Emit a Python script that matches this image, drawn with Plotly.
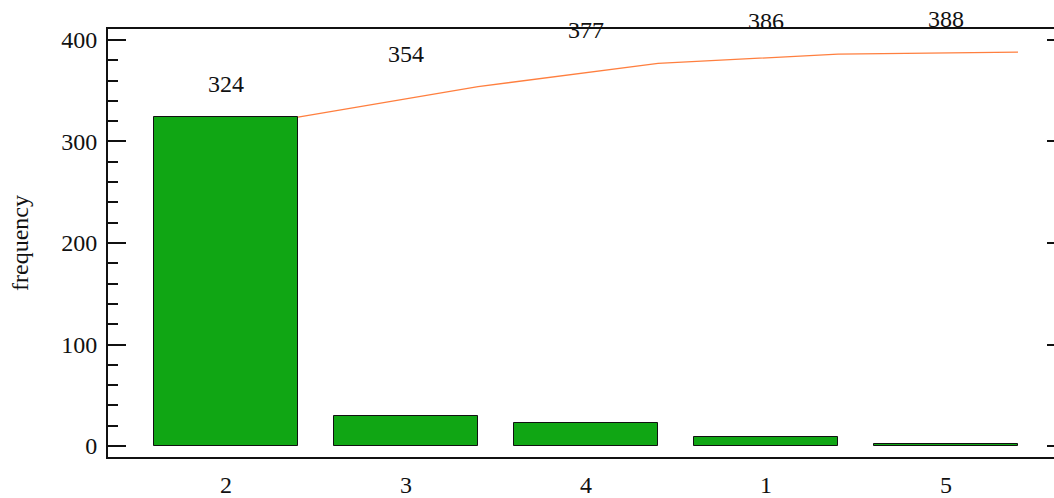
import plotly.graph_objects as go

# Pareto data: categories ordered by frequency, with running totals
categories = ["2", "3", "4", "1", "5"]
frequency = [324, 30, 23, 9, 2]
cumulative = [324, 354, 377, 386, 388]

positions = list(range(len(categories)))
bar_width = 0.8
line_x = [p + bar_width / 2 for p in positions]

font_family = "Liberation Serif, Times New Roman, serif"
ink = "#111111"
font_size = 24

fig = go.Figure()

fig.add_trace(go.Bar(
    x=positions,
    y=frequency,
    width=bar_width,
    marker=dict(color="#10a614", line=dict(color="#111111", width=1)),
    showlegend=False,
    hoverinfo="x+y",
))

fig.add_trace(go.Scatter(
    x=line_x,
    y=cumulative,
    mode="lines",
    line=dict(color="#ff7f3f", width=1.3),
    yaxis="y2",
    showlegend=False,
))

# running-total labels above each bar
for p, c in zip(positions, cumulative):
    fig.add_annotation(
        x=p, y=c, yshift=33, text=str(c), showarrow=False,
        font=dict(family=font_family, size=font_size, color=ink),
        xanchor="center", yanchor="middle",
    )

fig.update_layout(
    width=1054,
    height=498,
    margin=dict(l=108, r=0, t=29, b=41),
    paper_bgcolor="white",
    plot_bgcolor="white",
    font=dict(family=font_family, size=font_size, color=ink),
    bargap=0,
    xaxis=dict(
        range=[-0.656, 4.6],
        tickmode="array",
        tickvals=positions,
        ticktext=categories,
        ticks="",
        showgrid=False,
        zeroline=False,
        showline=True,
        linecolor=ink,
        linewidth=2,
        mirror=True,
        automargin=False,
        ticklabelstandoff=5,
        tickfont=dict(family=font_family, size=font_size, color=ink),
    ),
    yaxis=dict(
        range=[-10.8, 410.8],
        tickmode="linear",
        tick0=0,
        dtick=100,
        ticks="inside",
        ticklen=18,
        tickwidth=2,
        tickcolor=ink,
        minor=dict(ticks="inside", dtick=20, ticklen=10, tickwidth=2, tickcolor=ink),
        showgrid=False,
        zeroline=False,
        showline=True,
        linecolor=ink,
        linewidth=2,
        automargin=False,
        ticklabelstandoff=4,
        tickfont=dict(family=font_family, size=font_size, color=ink),
        title=dict(text="frequency", standoff=26,
                   font=dict(family=font_family, size=font_size, color=ink)),
    ),
    yaxis2=dict(
        overlaying="y",
        side="right",
        matches="y",
        tickmode="linear",
        tick0=0,
        dtick=100,
        ticks="inside",
        ticklen=7,
        tickwidth=2,
        tickcolor=ink,
        showticklabels=False,
        showgrid=False,
        zeroline=False,
        showline=False,
        automargin=False,
    ),
)

fig.write_html("out.html")
